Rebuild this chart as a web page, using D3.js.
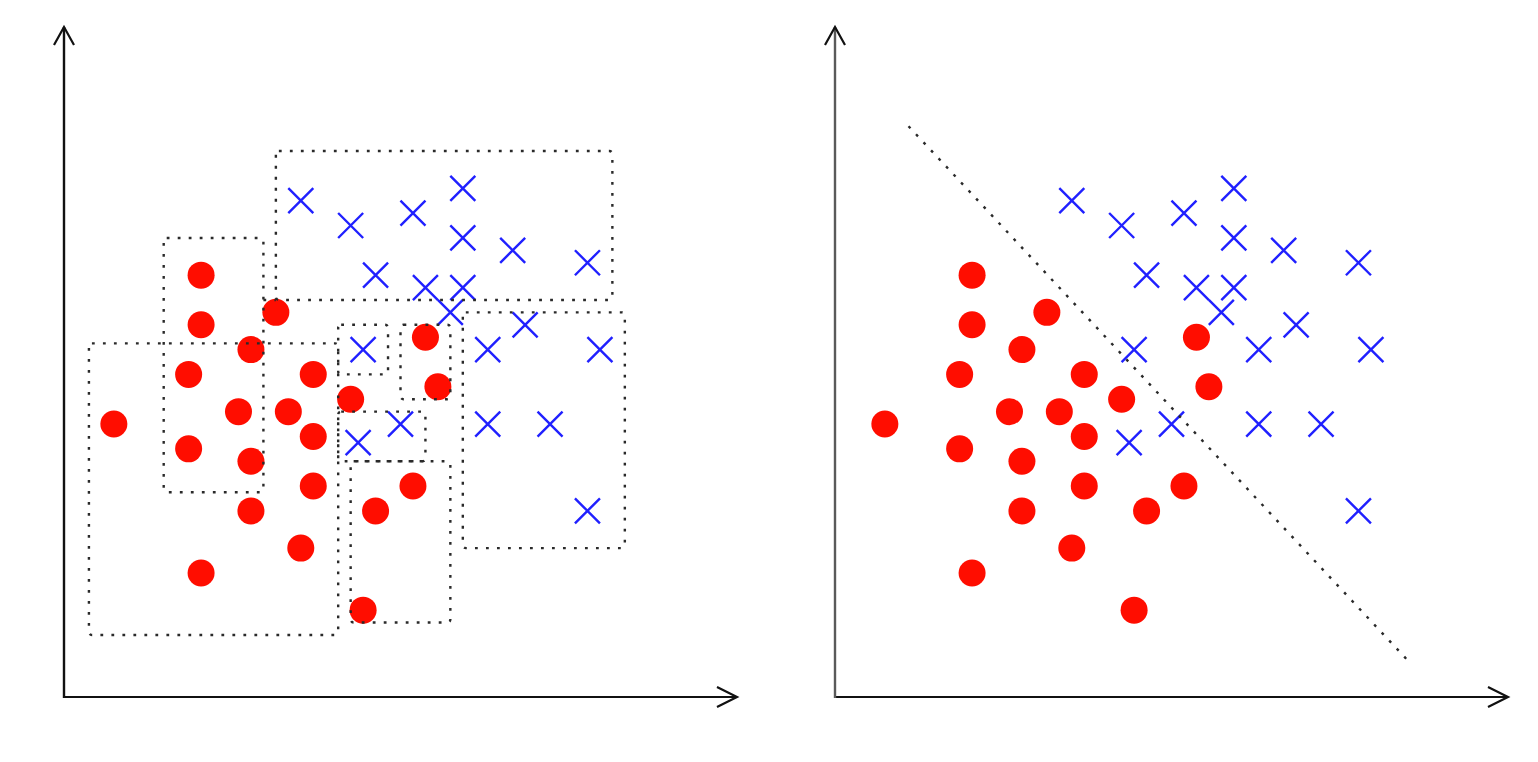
<!DOCTYPE html>
<html>
<head>
<meta charset="utf-8">
<script src="https://cdn.jsdelivr.net/npm/d3@7"></script>
<style>
  html, body { margin: 0; padding: 0; background: #fff; }
  svg { display: block; }
</style>
</head>
<body>
<svg id="chart"></svg>
<script>
// both panels share the same data, in grid units (0..54 on each axis)
const xMax = 54;
const yMax = 54;

const redPoints = [
  [4, 22], [11, 34], [11, 30], [17, 31], [15, 28], [10, 26], [20, 26],
  [14, 23], [18, 23], [23, 24], [20, 21], [10, 20], [15, 19], [20, 17],
  [15, 15], [19, 12], [11, 10], [25, 15], [28, 17], [24, 7], [29, 29], [30, 25]
];

const bluePoints = [
  [19, 40], [23, 38], [28, 39], [32, 41], [32, 37], [36, 36], [42, 35],
  [25, 34], [29, 33], [32, 33], [31, 31], [37, 30], [34, 28], [43, 28],
  [24, 28], [23.6, 20.5], [27, 22], [34, 22], [39, 22], [42, 15]
];

// decision tree regions: [x0, x1, y0, y1]
const regions = [
  [17, 44, 32, 44],
  [8, 16, 16.5, 37],
  [2, 22, 5, 28.5],
  [22, 26, 26, 30],
  [27, 31, 24, 30],
  [22, 29, 19, 23],
  [23, 31, 6, 19],
  [32, 45, 12, 31]
];
// extra split segment left of the top region
const splitLines = [[[16, 32], [17, 32]]];

// linear boundary for the right panel
const boundary = [[5.9, 46], [46, 2.9]];

const width = 1538;
const height = 762;

const svg = d3.select('#chart')
  .attr('width', width)
  .attr('height', height);

svg.append('rect')
  .attr('width', width)
  .attr('height', height)
  .attr('fill', '#fff');

const y = d3.scaleLinear().domain([0, yMax]).range([697, 27]);

const dotted = sel => sel
  .attr('fill', 'none')
  .attr('stroke', '#2a2a2a')
  .attr('stroke-width', 2.4)
  .attr('stroke-dasharray', '2.8,8.2');

const drawPanel = (x0, yAxisColor) => {
  const x = d3.scaleLinear().domain([0, xMax]).range([x0, x0 + 673]);
  const g = svg.append('g');

  // axes with open arrow heads
  const ox = x(0), oy = y(0), tx = x(xMax), ty = y(yMax);
  g.append('line')
    .attr('x1', ox).attr('y1', oy).attr('x2', tx).attr('y2', oy)
    .attr('stroke', '#111').attr('stroke-width', 2.2);
  g.append('path')
    .attr('d', `M${tx - 20},${oy - 10}L${tx},${oy}L${tx - 20},${oy + 10}`)
    .attr('fill', 'none').attr('stroke', '#111').attr('stroke-width', 2.2);
  g.append('line')
    .attr('x1', ox).attr('y1', oy + 1).attr('x2', ox).attr('y2', ty)
    .attr('stroke', yAxisColor).attr('stroke-width', 2.4);
  g.append('path')
    .attr('d', `M${ox - 10},${ty + 18}L${ox},${ty}L${ox + 10},${ty + 18}`)
    .attr('fill', 'none').attr('stroke', '#111').attr('stroke-width', 2.2);

  g.selectAll('circle.red')
    .data(redPoints)
    .enter().append('circle')
    .attr('class', 'red')
    .attr('cx', d => x(d[0]))
    .attr('cy', d => y(d[1]))
    .attr('r', 13.5)
    .attr('fill', '#ff0d00');

  const s = 12.5;
  g.selectAll('path.cross')
    .data(bluePoints)
    .enter().append('path')
    .attr('class', 'cross')
    .attr('d', d => {
      const cx = x(d[0]), cy = y(d[1]);
      return `M${cx - s},${cy - s}L${cx + s},${cy + s}M${cx - s},${cy + s}L${cx + s},${cy - s}`;
    })
    .attr('stroke', '#2020ff')
    .attr('stroke-width', 2.4)
    .attr('fill', 'none');

  return { g, x };
};

// left panel: decision tree regions
const left = drawPanel(64, '#111');
left.g.selectAll('rect.region')
  .data(regions)
  .enter().append('rect')
  .attr('class', 'region')
  .attr('x', d => left.x(d[0]))
  .attr('y', d => y(d[3]))
  .attr('width', d => left.x(d[1]) - left.x(d[0]))
  .attr('height', d => y(d[2]) - y(d[3]))
  .attr('rx', 3)
  .call(dotted);

const lineL = d3.line().x(d => left.x(d[0])).y(d => y(d[1]));
left.g.selectAll('path.split')
  .data(splitLines)
  .enter().append('path')
  .attr('class', 'split')
  .attr('d', lineL)
  .call(dotted);

// right panel: linear boundary
const right = drawPanel(835, '#5a5a5a');
const lineR = d3.line().x(d => right.x(d[0])).y(d => y(d[1]));
right.g.append('path')
  .datum(boundary)
  .attr('d', lineR)
  .call(dotted);
</script>
</body>
</html>
